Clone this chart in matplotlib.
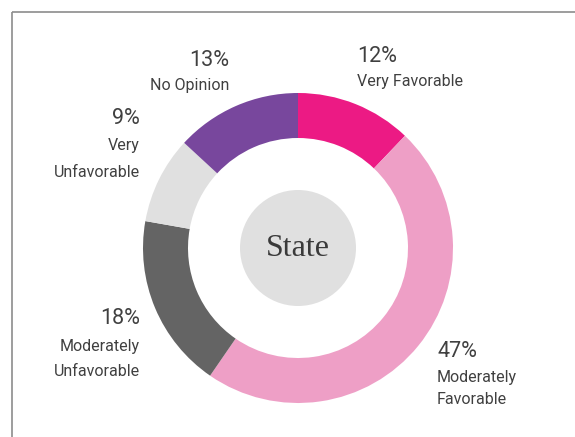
import matplotlib.pyplot as plt
from matplotlib.patches import Circle

# data
categories = ["Very Favorable", "Moderately Favorable", "Moderately Unfavorable",
              "Very Unfavorable", "No Opinion"]
shares = [12, 47, 18, 9, 13]
label_lines = [["Very Favorable"], ["Moderately", "Favorable"],
               ["Moderately", "Unfavorable"], ["Very", "Unfavorable"], ["No Opinion"]]
center_label = "State"

colors = ["#EC1A84", "#EE9FC6", "#646464", "#E0E0E0", "#78479D"]

# label layout in pixels (x, align, percent baseline, line baselines)
label_pos = [
    (357, "left", 62, [86]),
    (437, "left", 357, [382, 404]),
    (140, "right", 324, [351, 376]),
    (140, "right", 124, [150, 177]),
    (229, "right", 66, [90]),
]

W, H = 575, 437
cx, cy = 298, 248  # donut centre, pixels from top-left

fig = plt.figure(figsize=(W / 100, H / 100), dpi=100)
ax = fig.add_axes([0, 0, 1, 1])

ax.pie(shares, colors=colors, startangle=90, counterclock=False,
       radius=155, center=(cx, H - cy),
       wedgeprops=dict(width=45, linewidth=0))
ax.add_patch(Circle((cx, H - cy), 58, color="#E0E0E0", lw=0))
ax.text(cx, H - cy - 1, center_label, ha="center", va="center",
        family="Liberation Serif", fontsize=23, color="#3a3a3a")

for val, lines, (x, ha, yb, lbs) in zip(shares, label_lines, label_pos):
    ax.text(x, H - yb, f"{val}%", ha=ha, va="baseline", family="Roboto",
            fontsize=15.5, color="#404040")
    for line, lb in zip(lines, lbs):
        ax.text(x, H - lb, line, ha=ha, va="baseline", family="Roboto",
                fontsize=11.5, color="#404040")

# partial frame
ax.plot([12, W], [H - 12, H - 12], color="#8C8C8C", lw=1.2, solid_capstyle="butt")
ax.plot([12, 12], [H - 12, 0], color="#8C8C8C", lw=1.2, solid_capstyle="butt")

ax.set_aspect("auto")
ax.set_xlim(0, W)
ax.set_ylim(0, H)
ax.axis("off")

fig.savefig("out.png", dpi=100)
